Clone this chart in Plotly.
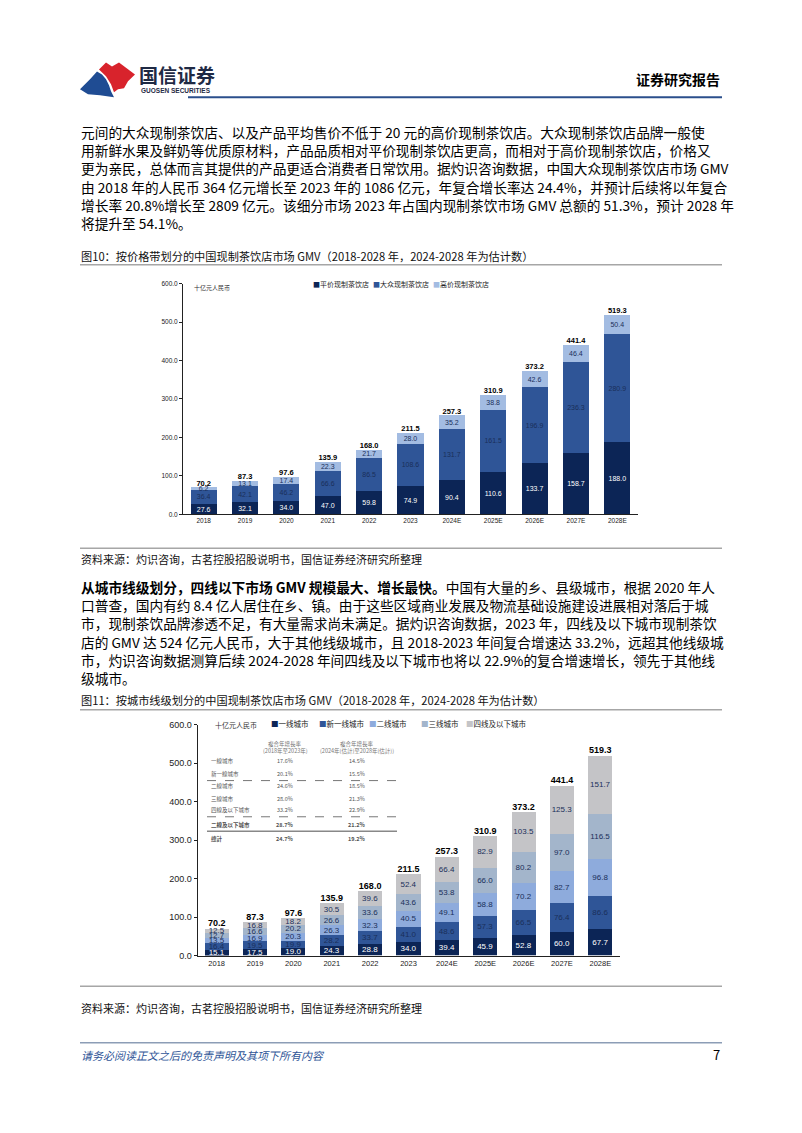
import plotly.graph_objects as go

W, H = 802, 1133
def px(x): return x / W
def py(y): return 1 - y / H

FONT = "Noto Sans CJK SC"
NUMF = "Liberation Sans Narrow, Liberation Sans, Arial"

# ---------------- data ----------------
years = ["2018", "2019", "2020", "2021", "2022", "2023", "2024E", "2025E", "2026E", "2027E", "2028E"]

price_names = ["平价现制茶饮店", "大众现制茶饮店", "高价现制茶饮店"]
pingjia = [27.6, 32.1, 34.0, 47.0, 59.8, 74.9, 90.4, 110.6, 133.7, 158.7, 188.0]
dazhong = [36.4, 42.1, 46.2, 66.6, 86.5, 108.6, 131.7, 161.5, 196.9, 236.3, 280.9]
gaojia = [6.2, 13.1, 17.4, 22.3, 21.7, 28.0, 35.2, 38.8, 42.6, 46.4, 50.4]
price_totals = [70.2, 87.3, 97.6, 135.9, 168.0, 211.5, 257.3, 310.9, 373.2, 441.4, 519.3]

tier_names = ["一线城市", "新一线城市", "二线城市", "三线城市", "四线及以下城市"]
tier1 = [15.1, 17.5, 19.0, 24.3, 28.8, 34.0, 39.4, 45.9, 52.8, 60.0, 67.7]
new1 = [16.4, 19.5, 19.9, 28.2, 33.7, 41.0, 48.6, 57.3, 66.5, 76.4, 86.6]
tier2 = [13.5, 16.9, 20.3, 26.3, 32.3, 40.5, 49.1, 58.8, 70.2, 82.7, 96.8]
tier3 = [12.7, 16.6, 20.2, 26.6, 33.6, 43.6, 53.8, 66.0, 80.2, 97.0, 116.5]
tier4 = [12.5, 16.8, 18.2, 30.5, 39.6, 52.4, 66.4, 82.9, 103.5, 125.3, 151.7]
tier_totals = [70.2, 87.3, 97.6, 135.9, 168.0, 211.5, 257.3, 310.9, 373.2, 441.4, 519.3]

y_ticks = [0, 100, 200, 300, 400, 500, 600]

cagr_rows = ["一線城市", "新一線城市", "二線城市", "三線城市", "四線及以下城市", "二線及以下城市", "總計"]
cagr_1823 = ["17.6%", "20.1%", "24.6%", "28.0%", "33.2%", "28.7%", "24.7%"]
cagr_2428 = ["14.5%", "15.5%", "18.5%", "21.3%", "22.9%", "21.2%", "19.2%"]

unit = "十亿元人民币"

para1 = [
    "元间的大众现制茶饮店、以及产品平均售价不低于 20 元的高价现制茶饮店。大众现制茶饮店品牌一般使",
    "用新鲜水果及鲜奶等优质原材料，产品品质相对平价现制茶饮店更高，而相对于高价现制茶饮店，价格又",
    "更为亲民，总体而言其提供的产品更适合消费者日常饮用。据灼识咨询数据，中国大众现制茶饮店市场 GMV",
    "由 2018 年的人民币 364 亿元增长至 2023 年的 1086 亿元，年复合增长率达 24.4%，并预计后续将以年复合",
    "增长率 20.8%增长至 2809 亿元。该细分市场 2023 年占国内现制茶饮市场 GMV 总额的 51.3%，预计 2028 年",
    "将提升至 54.1%。",
]
para2 = [
    "<b>从城市线级划分，四线以下市场 GMV 规模最大、增长最快。</b>中国有大量的乡、县级城市，根据 2020 年人",
    "口普查，国内有约 8.4 亿人居住在乡、镇。由于这些区域商业发展及物流基础设施建设进展相对落后于城",
    "市，现制茶饮品牌渗透不足，有大量需求尚未满足。据灼识咨询数据，2023 年，四线及以下城市现制茶饮",
    "店的 GMV 达 524 亿元人民币，大于其他线级城市，且 2018-2023 年间复合增速达 33.2%，远超其他线级城",
    "市，灼识咨询数据测算后续 2024-2028 年间四线及以下城市也将以 22.9%的复合增速增长，领先于其他线",
    "级城市。",
]
cap1 = "图10：按价格带划分的中国现制茶饮店市场 GMV（2018-2028 年，2024-2028 年为估计数）"
cap2 = "图11：按城市线级划分的中国现制茶饮店市场 GMV（2018-2028 年，2024-2028 年为估计数）"
source = "资料来源：灼识咨询，古茗控股招股说明书，国信证券经济研究所整理"

# ---------------- figure ----------------
fig = go.Figure()

price_colors = ["#0c2556", "#2f5597", "#a3bce2"]
price_txt = ["#ffffff", "#1a2f5a", "#1a2f5a"]
for name, vals, c, tc in zip(price_names, [pingjia, dazhong, gaojia], price_colors, price_txt):
    fig.add_trace(go.Bar(
        x=years, y=vals, name=name, marker=dict(color=c, line=dict(width=0)),
        width=0.63, text=[f"{v:.1f}" for v in vals], textposition="inside",
        insidetextanchor="middle", textangle=0, constraintext="none",
        textfont=dict(size=7, color=tc, family=NUMF),
        xaxis="x", yaxis="y", showlegend=False, hoverinfo="skip"))
fig.add_trace(go.Scatter(
    x=years, y=price_totals, mode="text", text=[f"{v:.1f}" for v in price_totals],
    textposition="top center", textfont=dict(size=7.5, color="#000", family=NUMF, weight="bold"),
    xaxis="x", yaxis="y", showlegend=False, cliponaxis=False, hoverinfo="skip"))

tier_colors = ["#0c2556", "#2f5597", "#8eabdc", "#a3b5cb", "#c4c4c7"]
tier_txt = ["#ffffff", "#1a2f5a", "#1a2f5a", "#1a2f5a", "#1a2f5a"]
for name, vals, c, tc in zip(tier_names, [tier1, new1, tier2, tier3, tier4], tier_colors, tier_txt):
    fig.add_trace(go.Bar(
        x=years, y=vals, name=name, marker=dict(color=c, line=dict(width=0)),
        width=0.63, text=[f"{v:.1f}" for v in vals], textposition="inside",
        insidetextanchor="middle", textangle=0, constraintext="none",
        textfont=dict(size=8, color=tc, family=NUMF),
        xaxis="x2", yaxis="y2", showlegend=False, hoverinfo="skip"))
fig.add_trace(go.Scatter(
    x=years, y=tier_totals, mode="text", text=[f"{v:.1f}" for v in tier_totals],
    textposition="top center", textfont=dict(size=9, color="#000", family=NUMF, weight="bold"),
    xaxis="x2", yaxis="y2", showlegend=False, cliponaxis=False, hoverinfo="skip"))

axis_common = dict(showgrid=False, zeroline=False, showline=True, linecolor="#222", linewidth=1)

fig.update_layout(
    width=W, height=H, margin=dict(l=0, r=0, t=0, b=0),
    paper_bgcolor="white", plot_bgcolor="white", barmode="stack",
    font=dict(family=FONT, color="#000"),
    xaxis=dict(domain=[px(183), px(638)], anchor="y", type="category", range=[-0.5, 10.5],
               ticks="", tickfont=dict(size=6.5, family=NUMF, color="#222"), **axis_common),
    yaxis=dict(domain=[py(514), py(281)], anchor="x", range=[0, 600], tickvals=y_ticks,
               tickformat=".1f", ticks="outside", ticklen=3, tickcolor="#222",
               tickfont=dict(size=6.5, family=NUMF, color="#222"), **axis_common),
    xaxis2=dict(domain=[px(197.5), px(619.5)], anchor="y2", type="category", range=[-0.5, 10.5],
                ticks="", tickfont=dict(size=7.5, family=NUMF, color="#222"), **axis_common),
    yaxis2=dict(domain=[py(959), py(726)], anchor="x2", range=[0, 600], tickvals=y_ticks,
                tickformat=".1f", ticks="outside", ticklen=3, tickcolor="#222",
                tickfont=dict(size=9, family=NUMF, color="#222"), **axis_common),
)

ann = []
shapes = []

def text(x, y, t, size, color="#000", anchor="left", family=FONT, **kw):
    ann.append(dict(x=px(x), y=py(y), xref="paper", yref="paper", text=t, showarrow=False,
                    xanchor=anchor, yanchor="middle", font=dict(size=size, color=color, family=family), **kw))

def hline(x0, x1, y, color, width=1, dash="solid"):
    shapes.append(dict(type="line", xref="paper", yref="paper", x0=px(x0), x1=px(x1),
                       y0=py(y), y1=py(y), line=dict(color=color, width=width, dash=dash)))

def path(points, color):
    d = "M " + " L ".join(f"{px(a):.5f},{py(b):.5f}" for a, b in points) + " Z"
    shapes.append(dict(type="path", xref="paper", yref="paper", path=d,
                       fillcolor=color, line=dict(width=0)))

# header / logo
path([(80, 85), (90, 75), (97, 67), (102, 70), (106, 75), (109, 81), (111, 87), (114, 93), (100, 91), (88, 90)], "#1f4c93")
path([(99, 65), (106, 58), (112, 62), (119, 58), (135, 70), (128, 77), (124, 84), (118, 85), (114, 88), (111, 80), (106, 72)], "#d8232c")
text(137, 70, "<b>国信证券</b>", 19, "#1f2a44")
text(139, 86, "<b>GUOSEN SECURITIES</b>", 6.5, "#1f2a44", family="Liberation Sans Narrow, Liberation Sans")
text(722, 75, "<b>证券研究报告</b>", 14, "#000", anchor="right")
hline(188, 722, 93, "#2b4f8c", 2)

# paragraph 1
for i, line in enumerate(para1):
    text(79, 128 + 18.4 * i, line, 13.7)
text(79, 253, cap1, 11.2, "#111")
hline(80, 722, 262, "#a6a6a6", 1.5)

# chart 1 legend + unit
text(192, 285, unit, 6, "#333")
for i, (name, c) in enumerate(zip(price_names, price_colors)):
    text(311 + 60 * i, 281, f"<span style='color:{c}'>■</span>{name}", 7, "#222")

hline(80, 722, 548, "#a6a6a6", 1.5)
text(79, 559, source, 11, "#111")

# paragraph 2
for i, line in enumerate(para2):
    text(79, 587 + 18.4 * i, line, 13.7)
text(79, 701, cap2, 11.2, "#111")
hline(80, 722, 711, "#a6a6a6", 1.5)

# chart 2 legend + unit
text(213, 726, unit, 7, "#333")
leg_x = [269, 317, 367, 419, 464]
for x, name, c in zip(leg_x, tier_names, tier_colors):
    text(x, 725, f"<span style='color:{c}'>■</span>{name}", 7.5, "#222")

# CAGR inset table
TF = "Noto Sans CJK TC"
text(285, 746, "複合年增長率", 5.5, "#777", anchor="center", family=TF)
text(285, 753, "(2018年至2023年)", 5.5, "#777", anchor="center", family=TF)
text(357, 746, "複合年增長率", 5.5, "#777", anchor="center", family=TF)
text(357, 753, "(2024年(估計)至2028年(估計))", 5.5, "#777", anchor="center", family=TF)
row_y = [763, 776, 788, 801, 812, 827, 841]
for i, (lab, a, b, y) in enumerate(zip(cagr_rows, cagr_1823, cagr_2428, row_y)):
    bold = i >= 5
    wrap = (lambda s: f"<b>{s}</b>") if bold else (lambda s: s)
    text(209, y, wrap(lab), 5.5, "#555", family=TF)
    text(285, y, wrap(a), 5.5, "#555", anchor="center", family=TF)
    text(357, y, wrap(b), 5.5, "#555", anchor="center", family=TF)
hline(207, 397, 782.5, "#777", 1, "dash")
hline(207, 397, 819, "#777", 1, "dash")
hline(207, 397, 833.5, "#888", 1.5)

hline(80, 722, 990, "#a6a6a6", 1.5)
text(79, 1012, source, 11, "#111")

# footer
hline(80, 722, 1047, "#8c9db6", 1.5)
text(79, 1059, "<i>请务必阅读正文之后的免责声明及其项下所有内容</i>", 11, "#2f5597")
text(722, 1059, "7", 13, "#000", anchor="right")

fig.update_layout(annotations=ann, shapes=shapes)
fig.write_html("out.html")
